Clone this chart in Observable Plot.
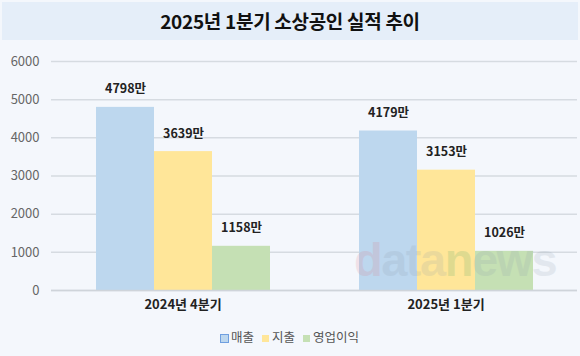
<!DOCTYPE html>
<html><head><meta charset="utf-8">
<script src="https://cdn.jsdelivr.net/npm/d3@7"></script>
<script src="https://cdn.jsdelivr.net/npm/@observablehq/plot@0.6"></script>
<style>
body{margin:0;width:580px;height:356px;background:#f4f7fc;font-family:"Noto Sans CJK KR","Noto Sans",sans-serif;overflow:hidden;position:relative}
#title{position:absolute;left:2px;top:2px;width:576px;height:38px;background:#e5eef9;color:#111;font-size:19px;font-weight:bold;text-align:center;line-height:38px;letter-spacing:-0.3px}
#chart{position:absolute;left:0;top:44px}
#legend{position:absolute;left:0;top:327px;width:580px;text-align:center;font-size:12.5px;color:#555}
#legend span.item{margin:0 4px}
#legend i{display:inline-block;width:7px;height:7px;margin-right:3px;vertical-align:0px}
#wm{position:absolute;left:354px;top:243px;height:34px;line-height:34px;font-family:"Liberation Sans",sans-serif;font-size:47px;font-weight:bold;color:#8a9aaa;opacity:0.16;letter-spacing:-1.5px;pointer-events:none}
</style></head>
<body>
<div id="title">2025년 1분기 소상공인 실적 추이</div>
<div id="chart"></div>
<div id="legend"></div>
<div id="wm"><span style="color:#e07080">d</span>ata<span style="color:#40a060">n</span>ews</div>
<script>
const categories = ["2024년 4분기", "2025년 1분기"];
const series = ["매출", "지출", "영업이익"];
const sales = [4798, 4179];
const spending = [3639, 3153];
const profit = [1158, 1026];
const colors = ["#bdd7ee", "#ffe699", "#c5e0b4"];
const yTicks = [0, 1000, 2000, 3000, 4000, 5000, 6000];

const values = [sales, spending, profit];
const rows = [];
categories.forEach((c, i) => series.forEach((s, j) => rows.push({cat: c, series: s, value: values[j][i]})));

const chart = Plot.plot({
  width: 580,
  height: 274,
  marginTop: 17,
  marginBottom: 28,
  marginLeft: 50,
  marginRight: 3,
  style: {background: "transparent", fontFamily: "'Noto Sans CJK KR', sans-serif"},
  fx: {domain: categories, padding: 0, label: null},
  x: {domain: series, axis: null, paddingInner: 0, paddingOuter: 0.74},
  y: {domain: [0, 6000], label: null},
  color: {domain: series, range: colors},
  marks: [
    Plot.gridY(yTicks, {stroke: "#d6dbe1", strokeOpacity: 1, strokeWidth: 1.5}),
    Plot.axisY(yTicks, {tickSize: 0, tickPadding: 12, fontSize: 13, fill: "#666", tickFormat: d => String(d), label: null}),
    Plot.barY(rows, {fx: "cat", x: "series", y: "value", fill: "series"}),
    Plot.text(rows, {fx: "cat", x: "series", y: "value", text: d => d.value + "만", dy: -18, fontSize: 12.5, fontWeight: "bold", fill: "#222"}),
    Plot.axisFx({anchor: "bottom", tickSize: 0, tickPadding: 9, fontSize: 13, fontWeight: "bold", fill: "#222", label: null}),
    Plot.ruleY([0], {stroke: "#cfd4da", strokeWidth: 1.5})
  ]
});
document.getElementById("chart").appendChild(chart);

const legend = document.getElementById("legend");
series.forEach((s, j) => {
  const span = document.createElement("span");
  span.className = "item";
  const sw = document.createElement("i");
  sw.style.background = colors[j];
  if (j === 0) { sw.style.outline = "1.5px solid #6f9fe0"; }
  span.appendChild(sw);
  span.appendChild(document.createTextNode(s));
  legend.appendChild(span);
});
</script>
</body></html>
